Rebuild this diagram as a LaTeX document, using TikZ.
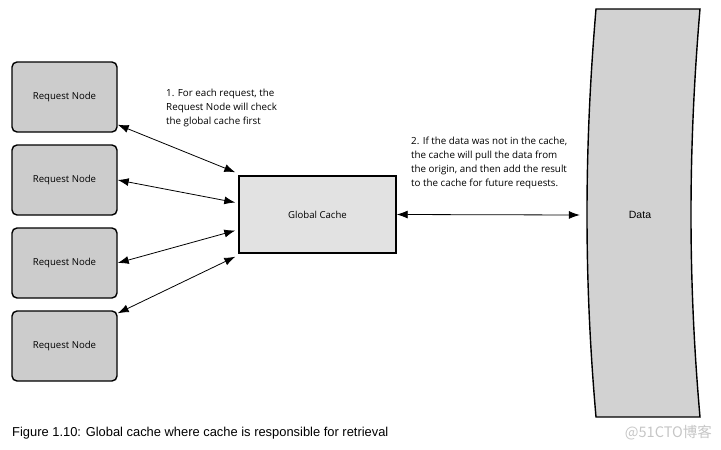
\documentclass[tikz,border=0pt]{standalone}
\usepackage{fontspec}
\setmainfont{Open Sans}
\newfontfamily\capfont{Liberation Sans}
\newfontfamily\cjkfont{Noto Sans CJK SC}
\usetikzlibrary{arrows.meta}
\definecolor{reqgray}{HTML}{CCCCCC}
\definecolor{cachegray}{HTML}{E2E2E2}
\definecolor{datagray}{HTML}{D2D2D2}
\begin{document}
\begin{tikzpicture}[x=1pt,y=-1pt,
  reqnode/.style={draw,line width=1.4pt,fill=reqgray,rounded corners=5pt,
    minimum width=105pt,minimum height=70pt,font=\fontsize{9.6}{11}\selectfont},
  cachenode/.style={draw,line width=1.4pt,fill=cachegray,
    minimum width=157pt,minimum height=77pt,font=\fontsize{9.6}{11}\selectfont},
  note/.style={anchor=north west,align=left,inner sep=0pt,
    font=\fontsize{9.8}{14}\selectfont},
  link/.style={{Latex[length=11pt,width=8pt]}-{Latex[length=11pt,width=8pt]},line width=0.8pt}]
\useasboundingbox (0,0) rectangle (721,450);
\node[reqnode] (req1) at (64.5,97) {Request Node};
\node[reqnode] (req2) at (64.5,180) {Request Node};
\node[reqnode] (req3) at (64.5,263) {Request Node};
\node[reqnode] (req4) at (64.5,346) {Request Node};
\node[cachenode] (cache) at (317.5,214.5) {Global Cache};
% data store
\draw[line width=1.4pt,fill=datagray] (596,9) .. controls (584,150) and (584,280) .. (596,417)
  -- (700,417) .. controls (688,280) and (688,150) .. (700,9) -- cycle;
\node[minimum width=120pt,font=\capfont\fontsize{10.5}{12}\selectfont] (data) at (640,215) {Data};
\node[note] (note1) at (166,89) {1. For each request, the\\Request Node will check\\the global cache first};
\node[note] (note2) at (411,137) {2. If the data was not in the cache,\\the cache will pull the data from\\the origin, and then add the result\\to the cache for future requests.};
\draw[link] ([yshift=8pt]req1.south east) -- ([shift={(-3pt,3pt)}]cache.north west);
\draw[link] (req2.east) -- ([shift={(-3pt,12pt)}]cache.west);
\draw[link] (req3.east) -- ([shift={(-3pt,-16pt)}]cache.west);
\draw[link] ([yshift=-3pt]req4.north east) -- ([shift={(-3pt,-3pt)}]cache.south west);
\draw[link] (cache.east) -- (data.west);
\node[anchor=west,inner sep=0pt,font=\capfont\fontsize{12.9}{14}\selectfont] (caption) at (12,433)
  {Figure 1.10: Global cache where cache is responsible for retrieval};
\node[anchor=east,inner sep=0pt,text=gray!45,font=\cjkfont\fontsize{14.5}{16}\selectfont] (mark) at (712,433) {@51CTO博客};
\end{tikzpicture}
\end{document}
